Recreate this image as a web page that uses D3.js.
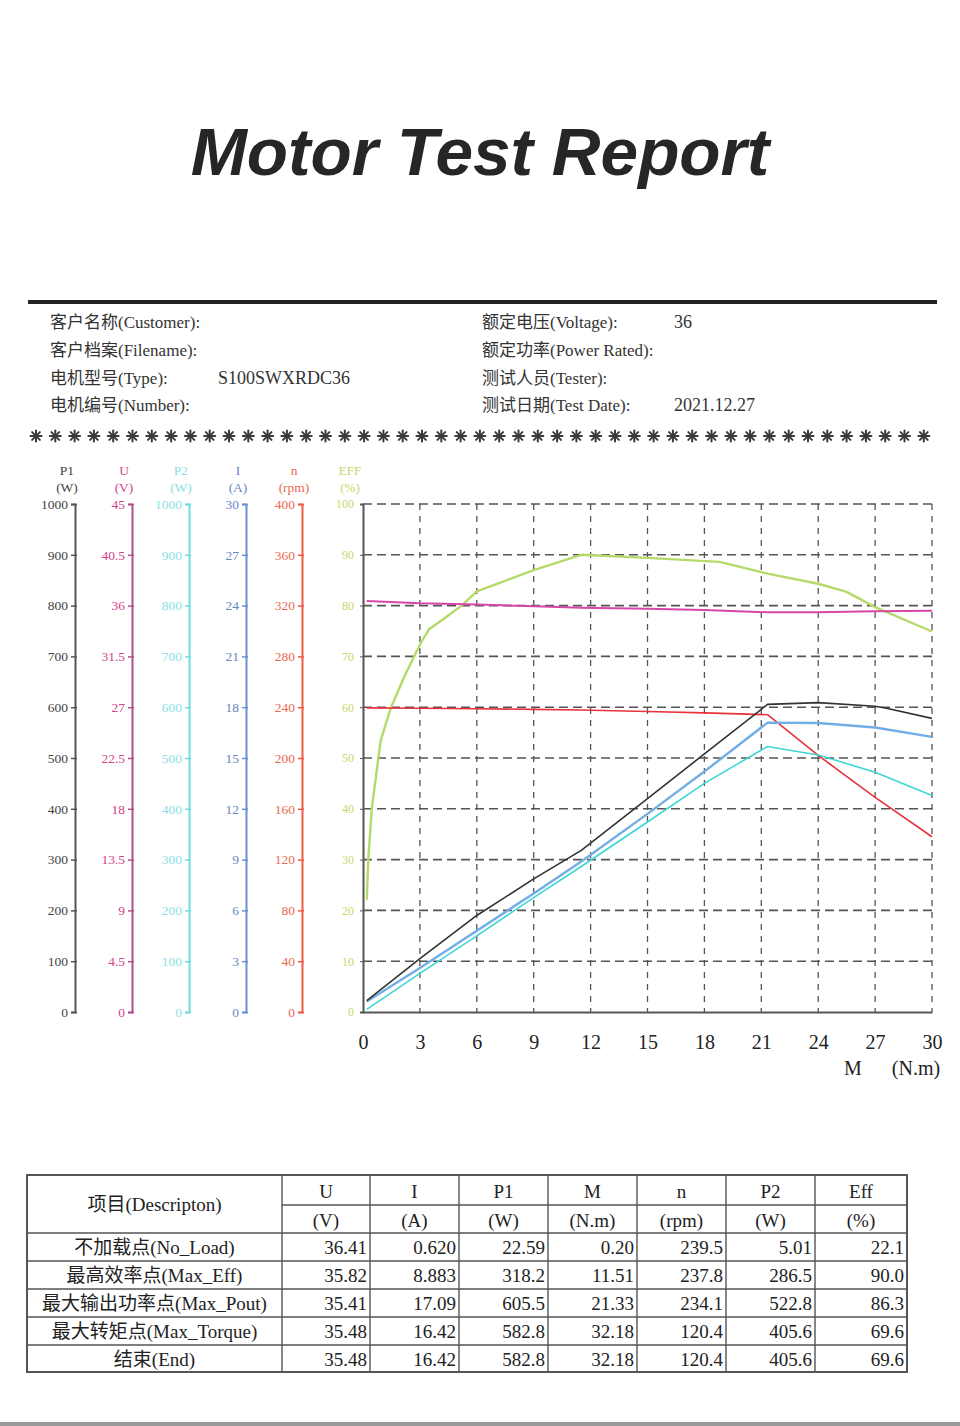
<!DOCTYPE html>
<html><head><meta charset="utf-8">
<script src="https://cdn.jsdelivr.net/npm/d3@7"></script>
<style>
html,body{margin:0;padding:0;background:#fff;}
svg{display:block;}
</style></head>
<body>
<svg id="c" width="960" height="1426"></svg>
<script>
// ---------- DATA ----------
const title = "Motor Test Report";
const infoLeft = [["客户名称(Customer):",""],["客户档案(Filename):",""],["电机型号(Type):","S100SWXRDC36"],["电机编号(Number):",""]];
const infoRight = [["额定电压(Voltage):","36"],["额定功率(Power Rated):",""],["测试人员(Tester):",""],["测试日期(Test Date):","2021.12.27"]];

const mTicks = [0,3,6,9,12,15,18,21,24,27,30];
const p1Ticks = [0,100,200,300,400,500,600,700,800,900,1000];
const uTicks = [0,4.5,9,13.5,18,22.5,27,31.5,36,40.5,45];
const p2Ticks = [0,100,200,300,400,500,600,700,800,900,1000];
const iTicks = [0,3,6,9,12,15,18,21,24,27,30];
const nTicks = [0,40,80,120,160,200,240,280,320,360,400];
const effTicks = [0,10,20,30,40,50,60,70,80,90,100];

// series: [M (N.m), value]
const p1Series = [[0.2,22.59],[3,105],[6,190],[9,262],[11.51,318.2],[15,420],[18,508],[21.33,605.5],[24,609],[27,602],[27.6,598],[30,578]];
const uSeries = [[0.2,36.41],[3,36.2],[6,36.1],[9,35.95],[11.51,35.82],[15,35.72],[18,35.62],[21.33,35.41],[24,35.42],[27,35.5],[30,35.55]];
const p2Series = [[0.2,5.01],[3,76],[6,150],[9,225],[11.51,286.5],[15,374],[18,450],[21.33,522.8],[24,506],[27,472],[30,426]];
const iSeries = [[0.2,0.62],[3,2.6],[6,4.8],[9,7.0],[11.51,8.883],[15,11.7],[18,14.2],[21.33,17.09],[24,17.07],[27,16.8],[30,16.25]];
const nSeries = [[0.2,239.5],[3,239.2],[6,238.8],[9,238.3],[11.51,237.8],[15,236.6],[18,235.5],[21.33,234.1],[24,202],[27,169],[30,138]];
const effSeries = [[0.2,22.1],[0.28,30],[0.46,40],[0.93,53.4],[1.48,60],[2.2,66.2],[3.05,72.7],[3.5,75.4],[4.26,77.4],[5.2,80],[6,82.8],[9,87],[11.51,90.0],[15,89.4],[18.8,88.6],[21.33,86.3],[24,84.3],[25.5,82.7],[27,79.7],[30,74.9]];

const tableHeads = ["U","I","P1","M","n","P2","Eff"];
const tableUnits = ["(V)","(A)","(W)","(N.m)","(rpm)","(W)","(%)"];
const rowLabels = ["不加载点(No_Load)","最高效率点(Max_Eff)","最大输出功率点(Max_Pout)","最大转矩点(Max_Torque)","结束(End)"];
const rowValues = [
  ["36.41","0.620","22.59","0.20","239.5","5.01","22.1"],
  ["35.82","8.883","318.2","11.51","237.8","286.5","90.0"],
  ["35.41","17.09","605.5","21.33","234.1","522.8","86.3"],
  ["35.48","16.42","582.8","32.18","120.4","405.6","69.6"],
  ["35.48","16.42","582.8","32.18","120.4","405.6","69.6"]
];

// ---------- DRAW ----------
const svg = d3.select("#c");
const serif = "'Liberation Serif','Noto Sans CJK SC',serif";

svg.append("text").attr("x",480).attr("y",175).attr("text-anchor","middle")
  .attr("font-family","'Liberation Sans',Arial,sans-serif").attr("font-weight","bold").attr("font-style","italic")
  .attr("font-size",67.5).attr("fill","#262626").text(title);

svg.append("line").attr("x1",28).attr("x2",937).attr("y1",302).attr("y2",302).attr("stroke","#222").attr("stroke-width",4);

const infoY = [328,356,384,411];
infoLeft.forEach((d,i)=>{
  svg.append("text").attr("x",50).attr("y",infoY[i]).attr("font-family",serif).attr("font-size",17).attr("fill","#333").text(d[0]);
  if(d[1]) svg.append("text").attr("x",218).attr("y",infoY[i]).attr("font-family",serif).attr("font-size",18).attr("fill","#333").text(d[1]);
});
infoRight.forEach((d,i)=>{
  svg.append("text").attr("x",482).attr("y",infoY[i]).attr("font-family",serif).attr("font-size",17).attr("fill","#333").text(d[0]);
  if(d[1]) svg.append("text").attr("x",674).attr("y",infoY[i]).attr("font-family",serif).attr("font-size",18).attr("fill","#333").text(d[1]);
});
// decorative asterisk row
const stars = svg.append("g").attr("stroke","#3a3a3a").attr("stroke-width",2).attr("stroke-linecap","round");
for(let k=0;k<47;k++){
  const cx = 36+k*19.3, cy = 436, r = 5.5;
  [0,45,90,135].forEach(a=>{
    const rad = a*Math.PI/180;
    stars.append("line").attr("x1",cx-r*Math.cos(rad)).attr("y1",cy-r*Math.sin(rad))
      .attr("x2",cx+r*Math.cos(rad)).attr("y2",cy+r*Math.sin(rad));
  });
}

// plot geometry
const X0=363, X1=932, Y0=1012, Y1=504;
const x = d3.scaleLinear().domain([0,30]).range([X0,X1]);
const mk = (max)=>d3.scaleLinear().domain([0,max]).range([Y0,Y1]);
const yP1=mk(1000), yU=mk(45), yP2=mk(1000), yI=mk(30), yN=mk(400), yE=mk(100);

// grid
const grid = svg.append("g");
effTicks.filter(v=>v>0).forEach(v=>{
  grid.append("line").attr("x1",X0).attr("x2",X1).attr("y1",yE(v)).attr("y2",yE(v))
    .attr("stroke","#555").attr("stroke-width",1.6).attr("stroke-dasharray","9,5");
});
mTicks.filter(v=>v>0).forEach(v=>{
  grid.append("line").attr("x1",x(v)).attr("x2",x(v)).attr("y1",Y1).attr("y2",Y0)
    .attr("stroke","#555").attr("stroke-width",1.3).attr("stroke-dasharray","6,6");
});

// left axes
const axes = [
  {name:"P1",unit:"(W)",ticks:p1Ticks,scale:yP1,x:75,line:"#555",txt:"#444",fmt:d=>d},
  {name:"U",unit:"(V)",ticks:uTicks,scale:yU,x:132,line:"#b0508e",txt:"#d6408e",fmt:d=>d},
  {name:"P2",unit:"(W)",ticks:p2Ticks,scale:yP2,x:189,line:"#6fdcdc",txt:"#8adfe4",fmt:d=>d},
  {name:"I",unit:"(A)",ticks:iTicks,scale:yI,x:246,line:"#6e8fd0",txt:"#6a86c4",fmt:d=>d},
  {name:"n",unit:"(rpm)",ticks:nTicks,scale:yN,x:302,line:"#ef5a44",txt:"#ec6a50",fmt:d=>d}
];
axes.forEach(a=>{
  const g = svg.append("g").attr("transform",`translate(${a.x},0)`)
    .call(d3.axisLeft(a.scale).tickValues(a.ticks).tickFormat(a.fmt).tickSize(4).tickPadding(3));
  g.select(".domain").attr("stroke",a.line).attr("stroke-width",2);
  g.selectAll(".tick line").attr("stroke",a.line).attr("stroke-width",1.5).attr("x1",2);
  g.selectAll(".tick text").attr("fill",a.txt).attr("font-family",serif).attr("font-size",13.5);
  svg.append("text").attr("x",a.x-8).attr("y",475).attr("text-anchor","middle").attr("font-family",serif).attr("font-size",13.5).attr("fill",a.txt).text(a.name);
  svg.append("text").attr("x",a.x-8).attr("y",492).attr("text-anchor","middle").attr("font-family",serif).attr("font-size",13.5).attr("fill",a.txt).text(a.unit);
});
// EFF axis (plot left frame)
{
  const g = svg.append("g").attr("transform",`translate(${X0},0)`)
    .call(d3.axisLeft(yE).tickValues(effTicks).tickSize(3).tickPadding(6));
  g.select(".domain").attr("stroke","#555").attr("stroke-width",2);
  g.selectAll(".tick line").attr("stroke","#555");
  g.selectAll(".tick text").attr("fill","#c9d66a").attr("font-family",serif).attr("font-size",12);
  svg.append("text").attr("x",350).attr("y",475).attr("text-anchor","middle").attr("font-family",serif).attr("font-size",13).attr("fill","#c9d66a").text("EFF");
  svg.append("text").attr("x",350).attr("y",492).attr("text-anchor","middle").attr("font-family",serif).attr("font-size",13).attr("fill","#c9d66a").text("(%)");
}
// bottom axis
{
  const g = svg.append("g").attr("transform",`translate(0,${Y0})`)
    .call(d3.axisBottom(x).tickValues(mTicks).tickSize(0).tickPadding(23));
  g.select(".domain").attr("stroke","#555").attr("stroke-width",2);
  g.selectAll(".tick text").attr("fill","#222").attr("font-family",serif).attr("font-size",20);
  svg.append("text").attr("x",853).attr("y",1075).attr("text-anchor","middle").attr("font-family",serif).attr("font-size",20).attr("fill","#222").text("M");
  svg.append("text").attr("x",916).attr("y",1075).attr("text-anchor","middle").attr("font-family",serif).attr("font-size",20).attr("fill","#222").text("(N.m)");
}

// curves
svg.append("clipPath").attr("id","clip").append("rect").attr("x",X0).attr("y",Y1-2).attr("width",X1-X0+1).attr("height",Y0-Y1+2);
const curves = svg.append("g").attr("clip-path","url(#clip)");
const draw = (data,ys,color,w)=>{
  curves.append("path").datum(data)
    .attr("d",d3.line().x(d=>x(d[0])).y(d=>ys(d[1])).curve(d3.curveLinear))
    .attr("fill","none").attr("stroke",color).attr("stroke-width",w).attr("stroke-linejoin","round");
};
draw(effSeries,yE,"#b4da6a",2.4);
draw(uSeries,yU,"#d846a8",2);
draw(nSeries,yN,"#e8323c",1.6);
draw(p2Series,yP2,"#3fd6d6",1.6);
draw(iSeries,yI,"#72aee6",2.4);
draw(p1Series,yP1,"#333",1.6);

// table
const colX = [27,282,370,459,548,637,726,815,907];
const rowY = [1175,1205,1233,1261,1289,1317,1345,1372];
const tb = svg.append("g");
const ln = (x1,y1,x2,y2,w)=>tb.append("line").attr("x1",x1).attr("y1",y1).attr("x2",x2).attr("y2",y2).attr("stroke","#555").attr("stroke-width",w||1.4);
tb.append("rect").attr("x",colX[0]).attr("y",rowY[0]).attr("width",colX[8]-colX[0]).attr("height",rowY[7]-rowY[0]).attr("fill","none").attr("stroke","#555").attr("stroke-width",2);
colX.slice(1,8).forEach(cx=>ln(cx,rowY[0],cx,rowY[7]));
ln(colX[1],rowY[1],colX[8],rowY[1]);
rowY.slice(2,7).forEach(ry=>ln(colX[0],ry,colX[8],ry));
const tt = (xx,yy,s,anchor)=>tb.append("text").attr("x",xx).attr("y",yy).attr("text-anchor",anchor).attr("font-family",serif).attr("font-size",19).attr("fill","#222").text(s);
tt((colX[0]+colX[1])/2,1211,"项目(Descripton)","middle");
tableHeads.forEach((h,i)=>tt((colX[i+1]+colX[i+2])/2,1198,h,"middle"));
tableUnits.forEach((h,i)=>tt((colX[i+1]+colX[i+2])/2,1227,h,"middle"));
rowLabels.forEach((l,r)=>{
  tt((colX[0]+colX[1])/2,rowY[r+2]+21,l,"middle");
  rowValues[r].forEach((v,c)=>tt(colX[c+2]-3,rowY[r+2]+21,v,"end"));
});

// bottom band
svg.append("rect").attr("x",0).attr("y",1422).attr("width",960).attr("height",4).attr("fill","#999");
</script>
</body></html>
